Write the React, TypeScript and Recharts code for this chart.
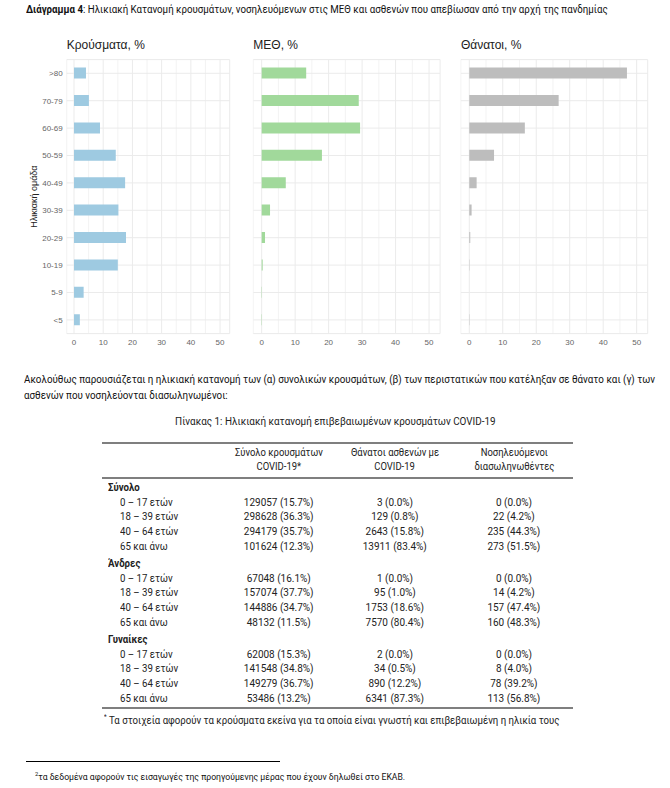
import React from 'react';
import { BarChart, Bar, XAxis, YAxis, CartesianGrid, Label } from 'recharts';

// age groups, listed top to bottom as in the figure
const ageGroups = ['>80', '70-79', '60-69', '50-59', '40-49', '30-39', '20-29', '10-19', '5-9', '<5'];
const casesPct = [4.1, 5.1, 8.9, 14.3, 17.5, 15.2, 17.8, 15.0, 3.3, 2.0];
const icuPct = [13.3, 29.0, 29.4, 18.0, 7.2, 2.5, 1.0, 0.3, 0.1, 0.1];
const deathsPct = [47.1, 26.7, 16.6, 7.4, 2.2, 0.7, 0.3, 0.1, 0, 0.1];
const xTicks = [0, 5, 10, 15, 20, 25, 30, 35, 40, 45, 50];

// table 1
const groups = ['Σύνολο', 'Άνδρες', 'Γυναίκες'];
const ageBands = ['0 – 17 ετών', '18 – 39 ετών', '40 – 64 ετών', '65 και άνω'];
const casesN = [
  [129057, 298628, 294179, 101624],
  [67048, 157074, 144886, 48132],
  [62008, 141548, 149279, 53486],
];
const casesShare = [
  [15.7, 36.3, 35.7, 12.3],
  [16.1, 37.7, 34.7, 11.5],
  [15.3, 34.8, 36.7, 13.2],
];
const deathsN = [
  [3, 129, 2643, 13911],
  [1, 95, 1753, 7570],
  [2, 34, 890, 6341],
];
const deathsShare = [
  [0.0, 0.8, 15.8, 83.4],
  [0.0, 1.0, 18.6, 80.4],
  [0.0, 0.5, 12.2, 87.3],
];
const intubN = [
  [0, 22, 235, 273],
  [0, 14, 157, 160],
  [0, 8, 78, 113],
];
const intubShare = [
  [0.0, 4.2, 44.3, 51.5],
  [0.0, 4.2, 47.4, 48.3],
  [0.0, 4.0, 39.2, 56.8],
];
const headers = [
  ['Σύνολο κρουσμάτων', 'COVID-19*'],
  ['Θάνατοι ασθενών με', 'COVID-19'],
  ['Νοσηλευόμενοι', 'διασωληνωθέντες'],
];

const CHART_FONT = '"Liberation Sans", Arial, sans-serif';
const DOC_FONT = 'Roboto, "Noto Sans", sans-serif';
const GRID = '#ebebeb';

const gridLine = (props: any) => (
  <line
    key={props.key}
    x1={props.x1}
    y1={props.y1}
    x2={props.x2}
    y2={props.y2}
    stroke={GRID}
    strokeWidth={props.index % 2 === 0 ? 1 : 0.6}
  />
);

// squeeze a line of text horizontally (the source uses a condensed face)
const Narrow = ({ k, origin = 'left', children }: { k: number; origin?: string; children: React.ReactNode }) => (
  <span style={{ display: 'inline-block', transform: `scaleX(${k})`, transformOrigin: origin, whiteSpace: 'nowrap' }}>
    {children}
  </span>
);

interface PanelProps {
  values: number[];
  color: string;
  title: string;
  left: number;
  width: number;
  marginLeft: number;
  showAxis: boolean;
}

function Panel({ values, color, title, left, width, marginLeft, showAxis }: PanelProps) {
  const data = ageGroups.map((g, i) => ({ age: g, value: values[i] }));
  const plotWidth = showAxis ? 163 : 186.8;
  return (
    <div style={{ position: 'absolute', left, top: 50, width, height: 310 }}>
      <BarChart
        width={width}
        height={310}
        data={data}
        layout="vertical"
        margin={{ top: 9.6, right: width - marginLeft - (showAxis ? 66 : 0) - plotWidth, bottom: 6.4, left: marginLeft }}
        barCategoryGap={0}
      >
        <CartesianGrid stroke={GRID} vertical={gridLine} />
        <XAxis
          type="number"
          domain={[-2.5, 53.3]}
          ticks={xTicks}
          allowDataOverflow
          tickFormatter={(v: number) => (v % 10 === 0 ? String(v) : '')}
          axisLine={false}
          tickLine={false}
          tickSize={0}
          tickMargin={6}
          height={20}
          tick={{ fontSize: 8, fill: '#666', fontFamily: CHART_FONT }}
        />
        <YAxis
          type="category"
          dataKey="age"
          hide={!showAxis}
          width={showAxis ? 66 : 0}
          axisLine={false}
          tickLine={false}
          tickSize={0}
          tickMargin={4}
          tick={{ fontSize: 8, fill: '#666', fontFamily: CHART_FONT }}
        >
          {showAxis && (
            <Label
              value="Ηλικιακή ομάδα"
              angle={-90}
              position="center"
              style={{ fontSize: 9, fill: '#222', fontFamily: CHART_FONT }}
            />
          )}
        </YAxis>
        <Bar dataKey="value" fill={color} barSize={11} isAnimationActive={false} />
      </BarChart>
      <div
        style={{
          position: 'absolute',
          left: marginLeft + (showAxis ? 66 : 0),
          top: -12,
          fontFamily: CHART_FONT,
          fontSize: 12,
          color: '#222',
          whiteSpace: 'nowrap',
        }}
      >
        {title}
      </div>
    </div>
  );
}

const fmt = (n: number, p: number) => `${n} (${p.toFixed(1)}%)`;
const colCenters = [279, 395, 514];

export default function App() {
  const rows: React.ReactNode[] = [];
  groups.forEach((g, gi) => {
    const gy = 488 + gi * 76;
    rows.push(
      <div key={`g${gi}`} style={{ position: 'absolute', left: 108, top: gy - 7, fontWeight: 'bold' }}>
        <Narrow k={0.92}>{g}</Narrow>
      </div>
    );
    ageBands.forEach((a, ai) => {
      const y = gy + 14.5 + ai * 14.8 - 7;
      const cells = [fmt(casesN[gi][ai], casesShare[gi][ai]), fmt(deathsN[gi][ai], deathsShare[gi][ai]), fmt(intubN[gi][ai], intubShare[gi][ai])];
      rows.push(
        <div key={`r${gi}-${ai}`} style={{ position: 'absolute', left: 120, top: y }}>
          <Narrow k={0.92}>{a}</Narrow>
        </div>
      );
      cells.forEach((c, ci) => {
        rows.push(
          <div key={`c${gi}-${ai}-${ci}`} style={{ position: 'absolute', left: colCenters[ci] - 65, width: 130, textAlign: 'center', top: y }}>
            <Narrow k={0.95} origin="center">{c}</Narrow>
          </div>
        );
      });
    });
  });

  const rule = (y: number) => (
    <div style={{ position: 'absolute', left: 102, width: 471, top: y - 1, height: 2, background: '#7f7f7f' }} />
  );

  return (
    <div style={{ position: 'absolute', left: 0, top: 0, width: 670, height: 788, background: '#fff', overflow: 'hidden' }}>
      <div style={{ position: 'absolute', left: 26, top: 3, fontFamily: DOC_FONT, fontSize: 10.5, lineHeight: '13px', color: '#111', whiteSpace: 'nowrap' }}>
        <Narrow k={0.925}>
          <b>Διάγραμμα 4</b>: Ηλικιακή Κατανομή κρουσμάτων, νοσηλευόμενων στις ΜΕΘ και ασθενών που απεβίωσαν από την αρχή της πανδημίας
        </Narrow>
      </div>

      <Panel values={casesPct} color="#9ecae1" title="Κρούσματα, %" left={0} width={232} marginLeft={0.7} showAxis />
      <Panel values={icuPct} color="#a1d99b" title="ΜΕΘ, %" left={240} width={205} marginLeft={13.3} showAxis={false} />
      <Panel values={deathsPct} color="#bdbdbd" title="Θάνατοι, %" left={450} width={205} marginLeft={10.9} showAxis={false} />

      <div style={{ position: 'absolute', left: 24, top: 372, fontFamily: DOC_FONT, fontSize: 10.5, lineHeight: '16px', color: '#111', whiteSpace: 'nowrap' }}>
        <Narrow k={0.935}>
          Ακολούθως παρουσιάζεται η ηλικιακή κατανομή των (α) συνολικών κρουσμάτων, (β) των περιστατικών που κατέληξαν σε θάνατο και (γ) των
        </Narrow>
        <br />
        <Narrow k={0.935}>ασθενών που νοσηλεύονται διασωληνωμένοι:</Narrow>
      </div>

      <div style={{ position: 'absolute', left: 0, width: 670, top: 413, textAlign: 'center', fontFamily: DOC_FONT, fontSize: 11.5, lineHeight: '16px', color: '#222' }}>
        <Narrow k={0.86} origin="center">Πίνακας 1: Ηλικιακή κατανομή επιβεβαιωμένων κρουσμάτων COVID-19</Narrow>
      </div>

      <div style={{ position: 'absolute', left: 0, top: 0, width: 670, height: 788, fontFamily: DOC_FONT, fontSize: 10.5, lineHeight: '14px', color: '#222', whiteSpace: 'nowrap' }}>
        {rule(443)}
        {headers.map((h, i) => (
          <div key={`h${i}`} style={{ position: 'absolute', left: colCenters[i] - 65, width: 130, textAlign: 'center', top: 446 }}>
            <Narrow k={0.9} origin="center">{h[0]}</Narrow>
            <br />
            <Narrow k={0.9} origin="center">{h[1]}</Narrow>
          </div>
        ))}
        {rule(478)}
        {rows}
        {rule(708)}
        <div style={{ position: 'absolute', left: 104, top: 710, fontSize: 11 }}>
          <Narrow k={0.875}>
            <sup style={{ fontSize: 7 }}>*</sup> Τα στοιχεία αφορούν τα κρούσματα εκείνα για τα οποία είναι γνωστή και επιβεβαιωμένη η ηλικία τους
          </Narrow>
        </div>
      </div>

      <div style={{ position: 'absolute', left: 26, top: 761, width: 254, height: 1, background: '#000' }} />
      <div style={{ position: 'absolute', left: 35, top: 768, fontFamily: DOC_FONT, fontSize: 9, lineHeight: '12px', color: '#111', whiteSpace: 'nowrap' }}>
        <Narrow k={0.96}>
          <sup style={{ fontSize: 6 }}>2</sup>τα δεδομένα αφορούν τις εισαγωγές της προηγούμενης μέρας που έχουν δηλωθεί στο ΕΚΑΒ.
        </Narrow>
      </div>
    </div>
  );
}
